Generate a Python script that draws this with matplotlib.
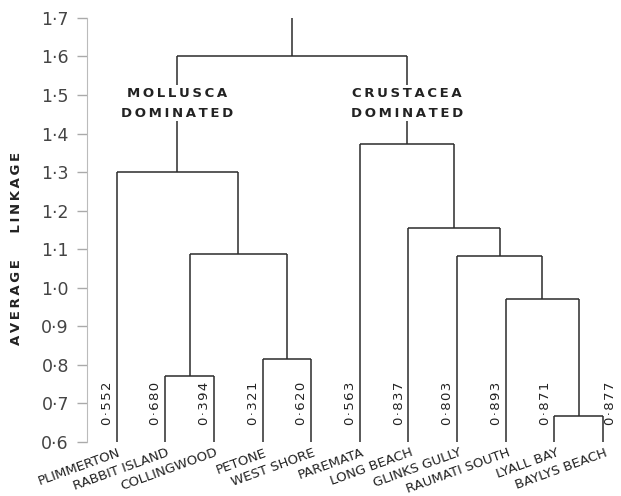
import matplotlib.pyplot as plt

# Sites (leaves, left to right) and the value printed beside each leaf
sites = ['PLIMMERTON', 'RABBIT ISLAND', 'COLLINGWOOD', 'PETONE', 'WEST SHORE',
         'PAREMATA', 'LONG BEACH', 'GLINKS GULLY', 'RAUMATI SOUTH', 'LYALL BAY',
         'BAYLYS BEACH']
leaf_values = ['0·552', '0·680', '0·394', '0·321', '0·620',
               '0·563', '0·837', '0·803', '0·893', '0·871', '0·877']

# Merges: (left node, right node, average linkage); new nodes numbered from 11
merge_left = [1, 3, 11, 0, 9, 8, 7, 6, 5, 14]
merge_right = [2, 4, 12, 13, 10, 15, 16, 17, 18, 19]
merge_height = [0.771, 0.815, 1.087, 1.30, 0.667, 0.971, 1.083, 1.156, 1.374, 1.60]
root_top = 1.70

yticks = [0.6, 0.7, 0.8, 0.9, 1.0, 1.1, 1.2, 1.3, 1.4, 1.5, 1.6, 1.7]

fig = plt.figure(figsize=(6.21, 4.96), dpi=100)
ax = fig.add_axes([0.140, 0.109, 0.86, 0.855])
ax.set_xlim(-0.61, 10.37)
ax.set_ylim(0.6, 1.7)

line_kw = dict(color='#2b2b2b', lw=1.1, solid_capstyle='butt')

# node positions
xpos = {i: float(i) for i in range(len(sites))}
ypos = {i: 0.6 for i in range(len(sites))}
for k, (a, b, h) in enumerate(zip(merge_left, merge_right, merge_height)):
    node = len(sites) + k
    ax.plot([xpos[a], xpos[a]], [ypos[a], h], **line_kw)
    ax.plot([xpos[b], xpos[b]], [ypos[b], h], **line_kw)
    ax.plot([xpos[a], xpos[b]], [h, h], **line_kw)
    xpos[node] = (xpos[a] + xpos[b]) / 2
    ypos[node] = h

root = len(sites) + len(merge_height) - 1
ax.plot([xpos[root], xpos[root]], [ypos[root], root_top], **line_kw)

# group labels over the branches
spaced = lambda s: '\u2009'.join(s)
moll = len(sites) + merge_left.index(0)
crus = len(sites) + merge_left.index(5)
for node, word in [(moll, 'MOLLUSCA'), (crus, 'CRUSTACEA')]:
    ax.text(xpos[node], 1.478, spaced(word) + '\n' + spaced('DOMINATED'),
            ha='center', va='center', fontsize=9.5, fontweight='bold',
            color='#222222', linespacing=1.7,
            bbox=dict(facecolor='white', edgecolor='none', pad=1))

# leaf values and site names
for i, (name, val) in enumerate(zip(sites, leaf_values)):
    right_side = i == len(sites) - 1
    ax.annotate('\u200a'.join(val), (i, 0.70), xytext=(0.5 if right_side else -2, 0),
                textcoords='offset points', rotation=90,
                ha='left' if right_side else 'right', va='center',
                fontsize=9.5, color='#222222')
    ax.annotate(name, (i, 0.6), xytext=(1, -3), textcoords='offset points',
                rotation=20, rotation_mode='anchor', ha='right', va='top',
                fontsize=9.5, color='#222222', annotation_clip=False)

ax.set_yticks(yticks)
ax.set_yticklabels([f'{t:.1f}'.replace('.', '·') for t in yticks],
                   fontsize=12.5, color='#444444')
ax.tick_params(axis='y', length=7, width=1, color='#aaaaaa', pad=6)
ax.set_xticks([])
for side in ['top', 'right', 'bottom']:
    ax.spines[side].set_visible(False)
ax.spines['left'].set_color('#bbbbbb')

fig.text(17 / 621, 1 - 248 / 496, spaced('AVERAGE') + '\u2003\u2003' + spaced('LINKAGE'),
         rotation=90, ha='center', va='center', fontsize=9.5, fontweight='bold',
         color='#222222')

fig.savefig('out.png', dpi=100)
